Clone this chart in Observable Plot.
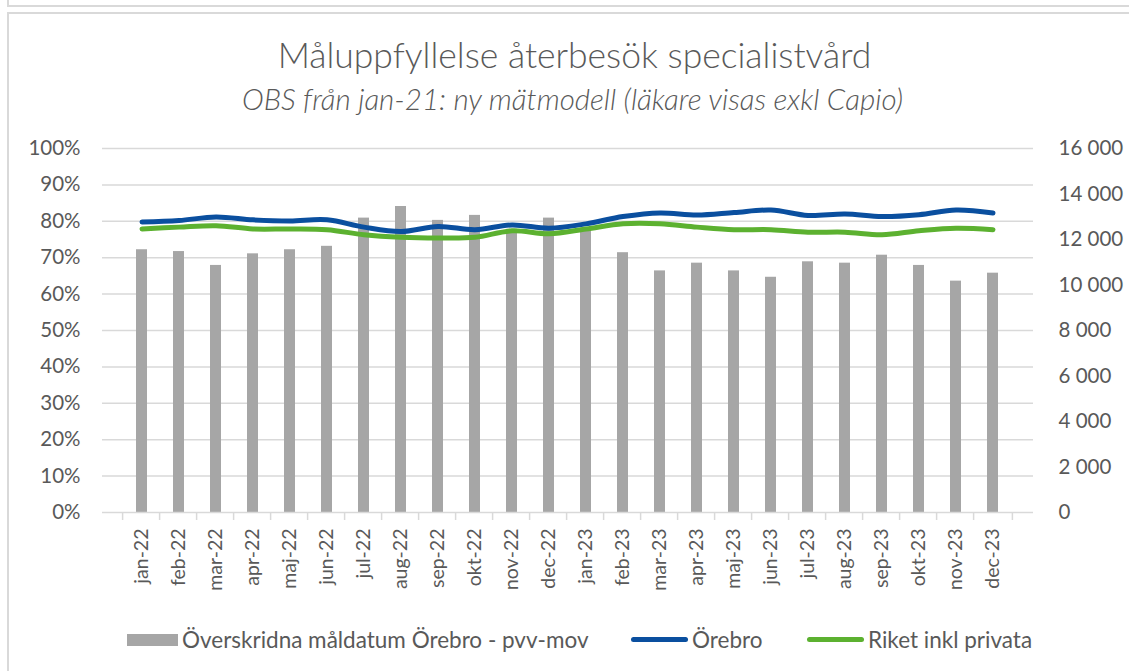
<!DOCTYPE html>
<html>
<head>
<meta charset="utf-8">
<script src="https://cdn.jsdelivr.net/npm/d3@7"></script>
<script src="https://cdn.jsdelivr.net/npm/@observablehq/plot@0.6"></script>
<style>
  html, body { margin: 0; padding: 0; background: #fff; }
  body { width: 1129px; height: 671px; overflow: hidden; position: relative; font-family: Lato, "Open Sans", sans-serif; color: #595959; }
  .prev { position: absolute; left: 7px; top: -12px; width: 1200px; height: 15px; border: 2px solid #d9d9d9; }
  .frame { position: absolute; left: 7px; top: 12px; width: 1200px; height: 700px; border: 2px solid #d9d9d9; }
  .title { position: absolute; left: 0; width: 1149px; top: 34px; text-align: center; font-size: 35.5px; font-weight: 300; color: #595959; line-height: 1.2; }
  .subtitle { position: absolute; left: 0; width: 1145px; top: 81px; text-align: center; font-size: 29.5px; font-style: italic; font-weight: 300; color: #595959; line-height: 1.2; }
  #chart { position: absolute; left: 0; top: 120px; }
  .leg { position: absolute; top: 626px; display: flex; align-items: center; font-size: 22.5px; color: #595959; white-space: nowrap; line-height: 1.2; }
  .sw { display: inline-block; margin-right: 4px; }
</style>
</head>
<body>
<div class="prev"></div>
<div class="frame"></div>
<div class="title">Måluppfyllelse återbesök specialistvård</div>
<div class="subtitle">OBS från jan-21: ny mätmodell (läkare visas exkl Capio)</div>
<div id="chart"></div>
<div class="leg" style="left:127px"><span class="sw" style="width:51px;height:12px;background:#a6a6a6"></span>Överskridna måldatum Örebro - pvv-mov</div>
<div class="leg" style="left:631px"><span class="sw" style="width:57px;height:5px;border-radius:3px;background:#0a4f9f"></span>Örebro</div>
<div class="leg" style="left:807px"><span class="sw" style="width:57px;height:5px;border-radius:3px;background:#5cb130"></span>Riket inkl privata</div>
<script>
const months = ["jan-22","feb-22","mar-22","apr-22","maj-22","jun-22","jul-22","aug-22","sep-22","okt-22","nov-22","dec-22",
                "jan-23","feb-23","mar-23","apr-23","maj-23","jun-23","jul-23","aug-23","sep-23","okt-23","nov-23","dec-23"];
// Överskridna måldatum Örebro - pvv-mov (right axis, count)
const overskridna = [11550, 11470, 10860, 11370, 11550, 11700, 12940, 13450, 12840, 13060, 12450, 12940,
                     12500, 11420, 10620, 10960, 10620, 10340, 11020, 10960, 11310, 10860, 10170, 10520];
// Örebro (left axis, %)
const orebro = [79.8, 80.2, 81.2, 80.4, 80.1, 80.4, 78.4, 77.2, 78.6, 77.7, 79.0, 78.1,
                79.3, 81.3, 82.3, 81.7, 82.4, 83.1, 81.6, 82.0, 81.3, 81.8, 83.1, 82.3];
// Riket inkl privata (left axis, %)
const riket = [77.9, 78.4, 78.8, 77.9, 77.9, 77.7, 76.3, 75.6, 75.4, 75.6, 77.4, 76.6,
               77.9, 79.3, 79.3, 78.4, 77.7, 77.7, 77.0, 77.0, 76.3, 77.4, 78.1, 77.7];
const leftTicks = [0, 10, 20, 30, 40, 50, 60, 70, 80, 90, 100];
const rightTicks = [0, 2000, 4000, 6000, 8000, 10000, 12000, 14000, 16000];
const rightMax = 16000;

const rows = months.map((m, i) => ({month: m, bar: overskridna[i], orebro: orebro[i], riket: riket[i]}));

const W = 1129, H = 480, mL = 102, mR = 96, mT = 28, mB = 88;
const step = (W - mL - mR) / months.length;
const fmt = d3.formatLocale({decimal: ",", thousands: "\u00a0", grouping: [3], currency: ["", " kr"]}).format(",d");
const toPct = v => v / rightMax * 100;

const chart = Plot.plot({
  width: W, height: H, marginLeft: mL, marginRight: mR, marginTop: mT, marginBottom: mB,
  style: {fontFamily: "Lato, 'Open Sans', sans-serif", fontSize: "20.5px", color: "#595959", background: "transparent"},
  x: {domain: months, padding: 0.7, axis: null},
  y: {domain: [0, 100], axis: null},
  marks: [
    Plot.gridY({ticks: leftTicks.slice(1), stroke: "#d9d9d9", strokeOpacity: 1, strokeWidth: 1.5}),
    Plot.barY(rows, {x: "month", y: d => toPct(d.bar), fill: "#a6a6a6"}),
    Plot.ruleY([0], {stroke: "#d9d9d9", strokeWidth: 1.5}),
    Plot.axisX({tickSize: 8, text: null, label: null, dx: -step / 2, stroke: "#d9d9d9", strokeWidth: 1.5, strokeOpacity: 1}),
    Plot.axisX({ticks: [months[months.length - 1]], tickSize: 8, text: null, label: null, dx: step / 2, stroke: "#d9d9d9", strokeWidth: 1.5, strokeOpacity: 1}),
    Plot.axisX({tickSize: 0, tickPadding: 16, tickRotate: -90, fontSize: 19.5, fill: "#595959", label: null}),
    Plot.line(rows, {x: "month", y: "orebro", stroke: "#0a4f9f", strokeWidth: 5, curve: "catmull-rom"}),
    Plot.line(rows, {x: "month", y: "riket", stroke: "#5cb130", strokeWidth: 5, curve: "catmull-rom"}),
    Plot.axisY({ticks: leftTicks, anchor: "left", tickSize: 0, tickPadding: 22, tickFormat: d => d + "%", fill: "#595959", label: null}),
    Plot.axisY({ticks: rightTicks.map(toPct), anchor: "right", tickSize: 0, tickPadding: 25,
                tickFormat: d => fmt(Math.round(d / 100 * rightMax)), fill: "#595959", label: null})
  ]
});
document.getElementById("chart").appendChild(chart);
</script>
</body>
</html>
